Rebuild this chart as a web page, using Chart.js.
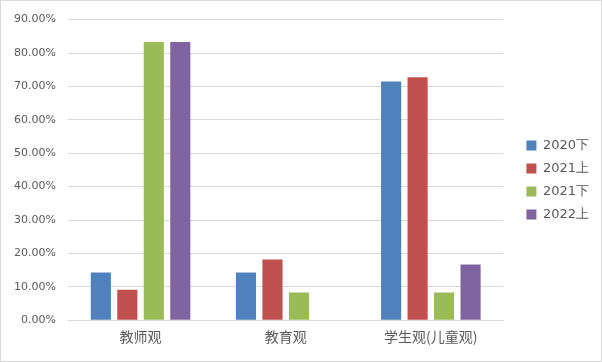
<!DOCTYPE html>
<html>
<head>
<meta charset="utf-8">
<script src="https://cdn.jsdelivr.net/npm/chart.js@4"></script>
<style>
  html, body { margin: 0; padding: 0; background: #fff; }
  #wrap { width: 602px; height: 362px; box-sizing: border-box; border: 1px solid #d9d9d9; }
  canvas { display: block; }
</style>
</head>
<body>
<div id="wrap"><canvas id="chart" width="600" height="360"></canvas></div>
<script>
// 类别与系列数据
const categories = ['教师观', '教育观', '学生观(儿童观)'];
const seriesNames = ['2020下', '2021上', '2021下', '2022上'];
const s2020b = [14.29, 14.29, 71.43];
const s2021a = [9.09, 18.18, 72.73];
const s2021b = [83.33, 8.33, 8.33];
const s2022a = [83.33, 0, 16.67];
const yTicks = [0, 10, 20, 30, 40, 50, 60, 70, 80, 90];

const colors = ['#4F81BD', '#C0504D', '#9BBB59', '#8064A2'];
const values = [s2020b, s2021a, s2021b, s2022a];

const ctx = document.getElementById('chart').getContext('2d');
new Chart(ctx, {
    type: 'bar',
    data: {
        labels: categories,
        datasets: seriesNames.map((name, i) => ({
            label: name,
            data: values[i],
            backgroundColor: colors[i],
            borderWidth: 0,
            barPercentage: 0.76,
            categoryPercentage: 0.73
        }))
    },
    options: {
        responsive: false,
        animation: false,
        layout: { padding: { top: 14, right: 2, left: 12, bottom: 16 } },
        plugins: {
            tooltip: { enabled: false },
            legend: {
                position: 'right',
                labels: {
                    boxWidth: 10,
                    boxHeight: 10,
                    padding: 10,
                    color: '#595959',
                    font: { family: 'DejaVu Sans', size: 13 }
                }
            }
        },
        scales: {
            x: {
                grid: { display: false },
                border: { color: '#d9d9d9' },
                ticks: {
                    color: '#595959',
                    padding: 0,
                    font: { family: 'Noto Sans CJK SC', size: 14 }
                }
            },
            y: {
                min: 0,
                max: 90,
                afterBuildTicks: axis => { axis.ticks = yTicks.map(v => ({ value: v })); },
                afterFit: axis => { axis.width = 55; },
                grid: { color: '#d9d9d9', drawTicks: false },
                border: { display: false },
                ticks: {
                    color: '#595959',
                    padding: 12,
                    font: { family: 'DejaVu Sans', size: 11 },
                    callback: v => v.toFixed(2) + '%'
                }
            },
            // 右侧留白（图例与绘图区之间）
            gap: {
                type: 'linear',
                position: 'right',
                display: true,
                grid: { display: false },
                border: { display: false },
                ticks: { display: false },
                afterFit: axis => { axis.width = 13; }
            }
        }
    }
});
</script>
</body>
</html>
